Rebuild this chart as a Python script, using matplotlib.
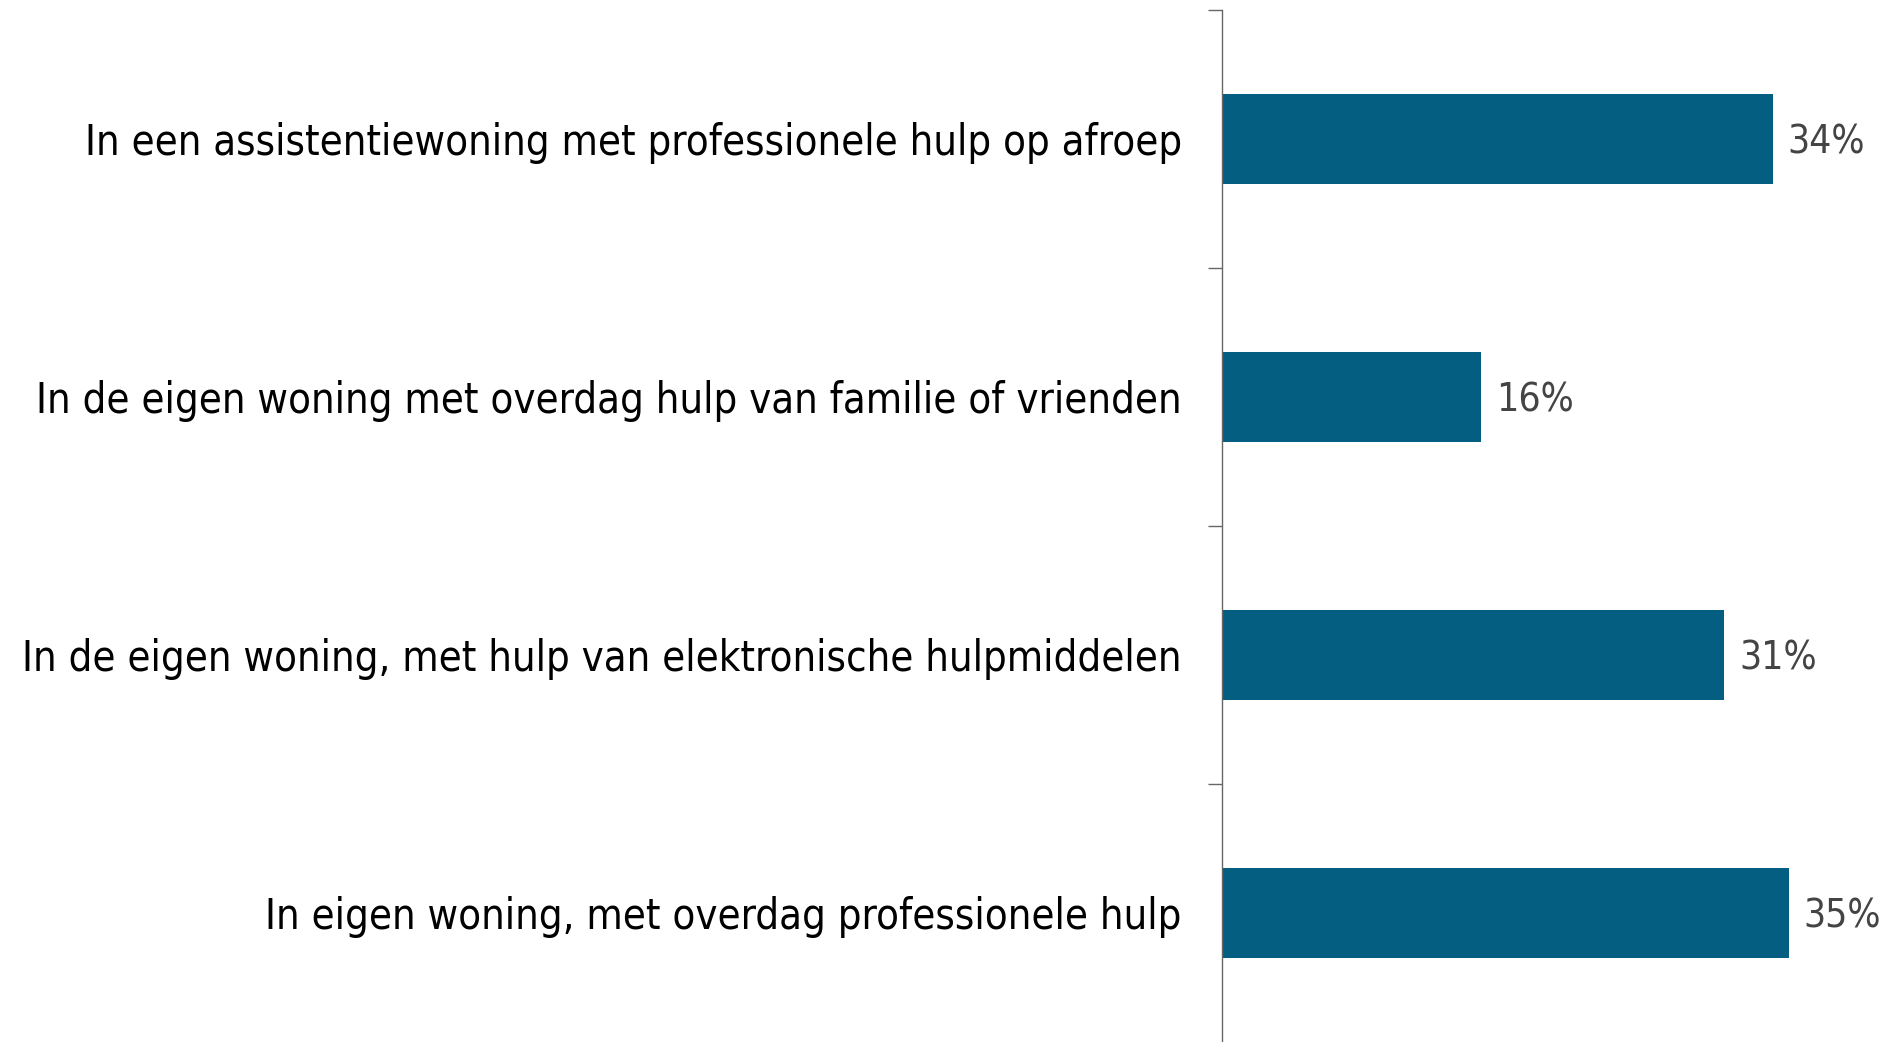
import matplotlib.pyplot as plt

categories = [
    "In een assistentiewoning met professionele hulp op afroep",
    "In de eigen woning met overdag hulp van familie of vrienden",
    "In de eigen woning, met hulp van elektronische hulpmiddelen",
    "In eigen woning, met overdag professionele hulp",
]
values = [34, 16, 31, 35]
value_labels = ["34%", "16%", "31%", "35%"]

plt.rcParams['font.family'] = ['DejaVu Sans']
plt.rcParams['font.stretch'] = 'condensed'

fig = plt.figure(figsize=(18.93, 10.42), dpi=100)
ax = fig.add_axes([0.6455, 0.0, 0.3545, 0.9907])

pos = list(range(len(categories)))
ax.barh(pos, values, height=0.35, color='#045e82')
for p, v, lab in zip(pos, values, value_labels):
    ax.text(v + 0.9, p, lab, va='center_baseline', ha='left', fontsize=28,
            color='#444444', stretch='condensed')

ax.set_xlim(0, 41.4)
ax.set_ylim(len(categories) - 0.5, -0.5)
ax.set_yticks(pos)
ax.set_yticklabels(categories, fontsize=30, color='black', stretch='condensed')
ax.set_yticks([p - 0.5 for p in pos], minor=True)
ax.tick_params(axis='y', which='major', length=0, pad=29)
ax.tick_params(axis='y', which='minor', length=10, width=1, color='#666666')
ax.set_xticks([])
for s in ['top', 'right', 'bottom']:
    ax.spines[s].set_visible(False)
ax.spines['left'].set_color('#666666')
ax.spines['left'].set_linewidth(1)

fig.savefig('out.png', dpi=100)
